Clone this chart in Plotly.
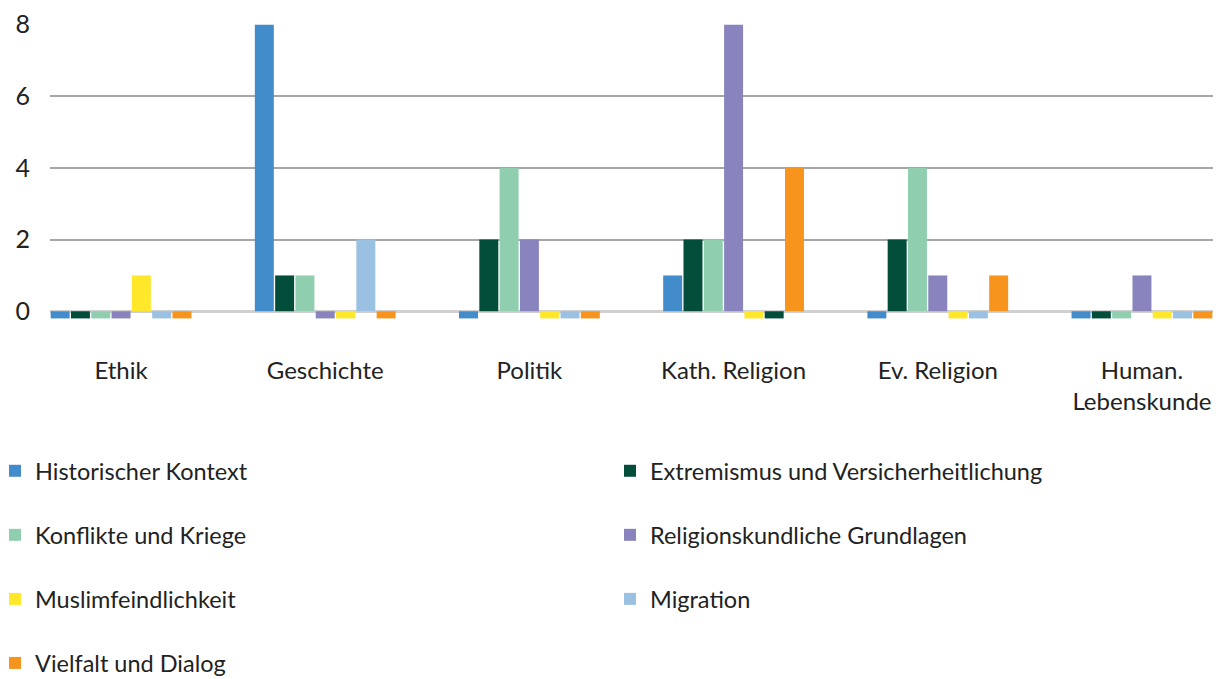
import plotly.graph_objects as go

categories = ["Ethik", "Geschichte", "Politik", "Kath. Religion", "Ev. Religion", "Human.<br>Lebenskunde"]

series_names = [
    "Historischer Kontext",
    "Extremismus und Versicherheitlichung",
    "Konflikte und Kriege",
    "Religionskundliche Grundlagen",
    "Muslimfeindlichkeit",
    "Migration",
    "Vielfalt und Dialog",
]

historischer_kontext = [0, 8, 0, 1, 0, 0]
extremismus = [0, 1, 2, 2, 2, 0]
konflikte = [0, 1, 4, 2, 4, 0]
religionskundliche = [0, 0, 2, 8, 1, 1]
muslimfeindlichkeit = [1, 0, 0, 0, 0, 0]
migration = [0, 2, 0, 0, 0, 0]
vielfalt = [0, 0, 0, 4, 1, 0]

values = [historischer_kontext, extremismus, konflikte, religionskundliche,
          muslimfeindlichkeit, migration, vielfalt]

colors = ["#438CCB", "#034E3A", "#8FCFAF", "#8984BE", "#FFE72A", "#9BC1E2", "#F7941E"]
# in the original, the zero stub of "Migration" under Kath. Religion is drawn dark green
point_colors = {5: ["#9BC1E2", "#9BC1E2", "#9BC1E2", "#034E3A", "#9BC1E2", "#9BC1E2"]}

ZERO_STUB = -0.2  # zero values are shown as small stubs below the axis
FONT = "Lato"

x_pos = list(range(len(categories)))

fig = go.Figure()
for i, (name, vals) in enumerate(zip(series_names, values)):
    plotted = [v if v != 0 else ZERO_STUB for v in vals]
    fig.add_trace(go.Bar(
        x=x_pos, y=plotted, name=name,
        customdata=vals,
        hovertemplate="%{customdata}<extra>" + name + "</extra>",
        marker=dict(color=point_colors.get(i, colors[i]), line=dict(width=0)),
        legend="legend" if i % 2 == 0 else "legend2",
        legendgroup=name,
    ))

PLOT_L, PLOT_R = 50, 1213
PW = PLOT_R - PLOT_L

legend_common = dict(
    orientation="v", xref="paper", yref="container", xanchor="left", yanchor="top",
    font=dict(family=FONT, size=23.5, color="#222222"),
    tracegroupgap=30.5, bgcolor="rgba(0,0,0,0)", itemwidth=30,
)

fig.update_layout(
    width=1222, height=679,
    margin=dict(l=PLOT_L, r=1222 - PLOT_R, t=24, b=357),
    paper_bgcolor="white", plot_bgcolor="white",
    barmode="group", bargap=0.304, bargroupgap=0.065,
    font=dict(family=FONT, size=22, color="#222222"),
    showlegend=True,
    legend=dict(x=(0 - PLOT_L) / PW, y=1 - 449 / 679, indentation=-5, **legend_common),
    legend2=dict(x=(610 - PLOT_L) / PW, y=1 - 449 / 679, **legend_common),
    xaxis=dict(
        tickmode="array", tickvals=x_pos, ticktext=categories, tickangle=0,
        range=[-0.348, 5.348], showgrid=False, zeroline=False, showline=False,
        ticks="outside", ticklen=27, tickcolor="rgba(0,0,0,0)",
        tickfont=dict(family=FONT, size=24, color="#222222"),
    ),
    yaxis=dict(
        range=[-0.3, 8.02], tickvals=[0, 2, 4, 6, 8],
        showgrid=True, gridcolor="#A6A6A6", gridwidth=1.5,
        zeroline=True, zerolinecolor="#D0D0D0", zerolinewidth=2.5,
        showline=False, ticks="outside", ticklen=14, tickcolor="rgba(0,0,0,0)",
        tickfont=dict(family=FONT, size=25, color="#222222"),
    ),
)

fig.write_html("out.html")
